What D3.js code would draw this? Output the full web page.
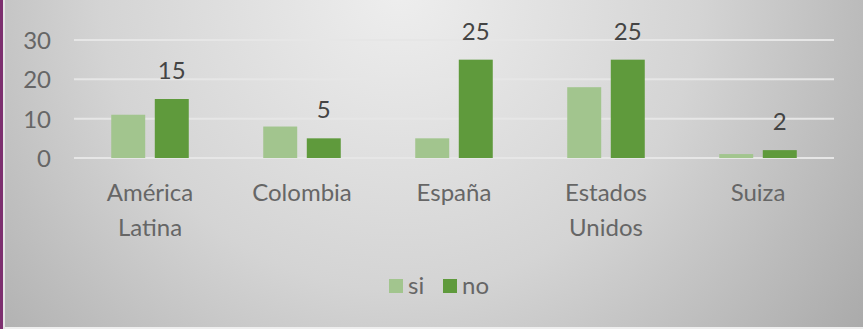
<!DOCTYPE html>
<html>
<head>
<meta charset="utf-8">
<script src="https://cdn.jsdelivr.net/npm/d3@7"></script>
<style>
  html, body { margin: 0; padding: 0; background: #ffffff; }
  svg { display: block; }
  text { font-family: Lato, "Open Sans", sans-serif; }
</style>
</head>
<body>
<div id="chart"></div>
<script>
// ---- data ----
var categories = [["América", "Latina"], ["Colombia"], ["España"], ["Estados", "Unidos"], ["Suiza"]];
var seriesNames = ["si", "no"];
var siValues = [11, 8, 5, 18, 1];
var noValues = [15, 5, 25, 25, 2];
var yTicks = [0, 10, 20, 30];

var W = 863, H = 329;
var margin = {top: 40, right: 29, bottom: 171, left: 74};

var svg = d3.select("#chart").append("svg")
    .attr("width", W)
    .attr("height", H);

// background gradient (excel style)
var defs = svg.append("defs");
var grad = defs.append("radialGradient")
    .attr("id", "bg")
    .attr("gradientUnits", "userSpaceOnUse")
    .attr("cx", 400).attr("cy", -10).attr("r", 600);
grad.append("stop").attr("offset", "0%").attr("stop-color", "#eeeeee");
grad.append("stop").attr("offset", "50%").attr("stop-color", "#d4d4d4");
grad.append("stop").attr("offset", "100%").attr("stop-color", "#a6a6a6");

svg.append("rect").attr("width", W).attr("height", H).attr("fill", "url(#bg)");
// purple left border + thin light line
svg.append("rect").attr("x", 0).attr("y", 0).attr("width", 3).attr("height", H).attr("fill", "#7d2f6f");
svg.append("rect").attr("x", 3).attr("y", 0).attr("width", 2).attr("height", H).attr("fill", "#e4e4e4");
svg.append("rect").attr("x", 5).attr("y", H - 2).attr("width", W - 5).attr("height", 2).attr("fill", "#eeeeee");

var rows = categories.map(function(c, i) {
  return {key: c.join(" "), lines: c, si: siValues[i], no: noValues[i]};
});

var x0 = d3.scaleBand()
    .domain(rows.map(function(d) { return d.key; }))
    .range([margin.left, W - margin.right])
    .paddingInner(0.49)
    .paddingOuter(0.245);

var x1 = d3.scaleBand()
    .domain(seriesNames)
    .range([0, x0.bandwidth()])
    .paddingInner(0.22);

var y = d3.scaleLinear()
    .domain([0, 30])
    .range([158, margin.top]);

var color = d3.scaleOrdinal()
    .domain(seriesNames)
    .range(["#a2c58e", "#5f9a3c"]);

// gridlines
svg.append("g")
    .selectAll("line")
    .data(yTicks)
    .enter().append("line")
    .attr("x1", margin.left)
    .attr("x2", W - margin.right)
    .attr("y1", function(d) { return y(d); })
    .attr("y2", function(d) { return y(d); })
    .attr("stroke", "#e6e6e6")
    .attr("stroke-width", 2);

// y axis labels
var yAxis = d3.axisLeft(y).tickValues(yTicks).tickSize(0).tickPadding(0);
var gy = svg.append("g")
    .attr("transform", "translate(51,0)")
    .call(yAxis);
gy.select(".domain").remove();
gy.selectAll("text")
    .attr("fill", "#666666")
    .style("font-size", "24px")
    .style("font-family", "Lato, sans-serif")
    .attr("dy", "0.36em");

// bars
var groups = svg.append("g")
    .selectAll("g")
    .data(rows)
    .enter().append("g")
    .attr("transform", function(d) { return "translate(" + x0(d.key) + ",0)"; });

groups.selectAll("rect")
    .data(function(d) { return seriesNames.map(function(s) { return {s: s, v: d[s]}; }); })
    .enter().append("rect")
    .attr("x", function(d) { return x1(d.s); })
    .attr("y", function(d) { return y(d.v); })
    .attr("width", x1.bandwidth())
    .attr("height", function(d) { return y(0) - y(d.v); })
    .attr("fill", function(d) { return color(d.s); });

// data labels, only on "no"
groups.append("text")
    .attr("x", x1("no") + x1.bandwidth() / 2)
    .attr("y", function(d) { return y(d.no) - 20; })
    .attr("text-anchor", "middle")
    .attr("fill", "#444444")
    .style("font-size", "24px")
    .text(function(d) { return d.no; });

// category labels
var cat = svg.append("g")
    .selectAll("text")
    .data(rows)
    .enter().append("text")
    .attr("x", function(d) { return x0(d.key) + x0.bandwidth() / 2; })
    .attr("y", 201)
    .attr("text-anchor", "middle")
    .attr("fill", "#666666")
    .style("font-size", "24px");

cat.selectAll("tspan")
    .data(function(d) { return d.lines; })
    .enter().append("tspan")
    .attr("x", function() { var p = d3.select(this.parentNode).datum(); return x0(p.key) + x0.bandwidth() / 2; })
    .attr("dy", function(d, i) { return i == 0 ? 0 : 35; })
    .text(function(d) { return d; });

// legend
var legend = svg.append("g")
    .selectAll("g")
    .data(seriesNames)
    .enter().append("g")
    .attr("transform", function(d, i) { return "translate(" + (389 + i * 54) + ",279)"; });

legend.append("rect")
    .attr("width", 14)
    .attr("height", 14)
    .attr("fill", function(d) { return color(d); });

legend.append("text")
    .attr("x", 19)
    .attr("y", 15)
    .attr("fill", "#666666")
    .style("font-size", "24px")
    .text(function(d) { return d; });
</script>
</body>
</html>
